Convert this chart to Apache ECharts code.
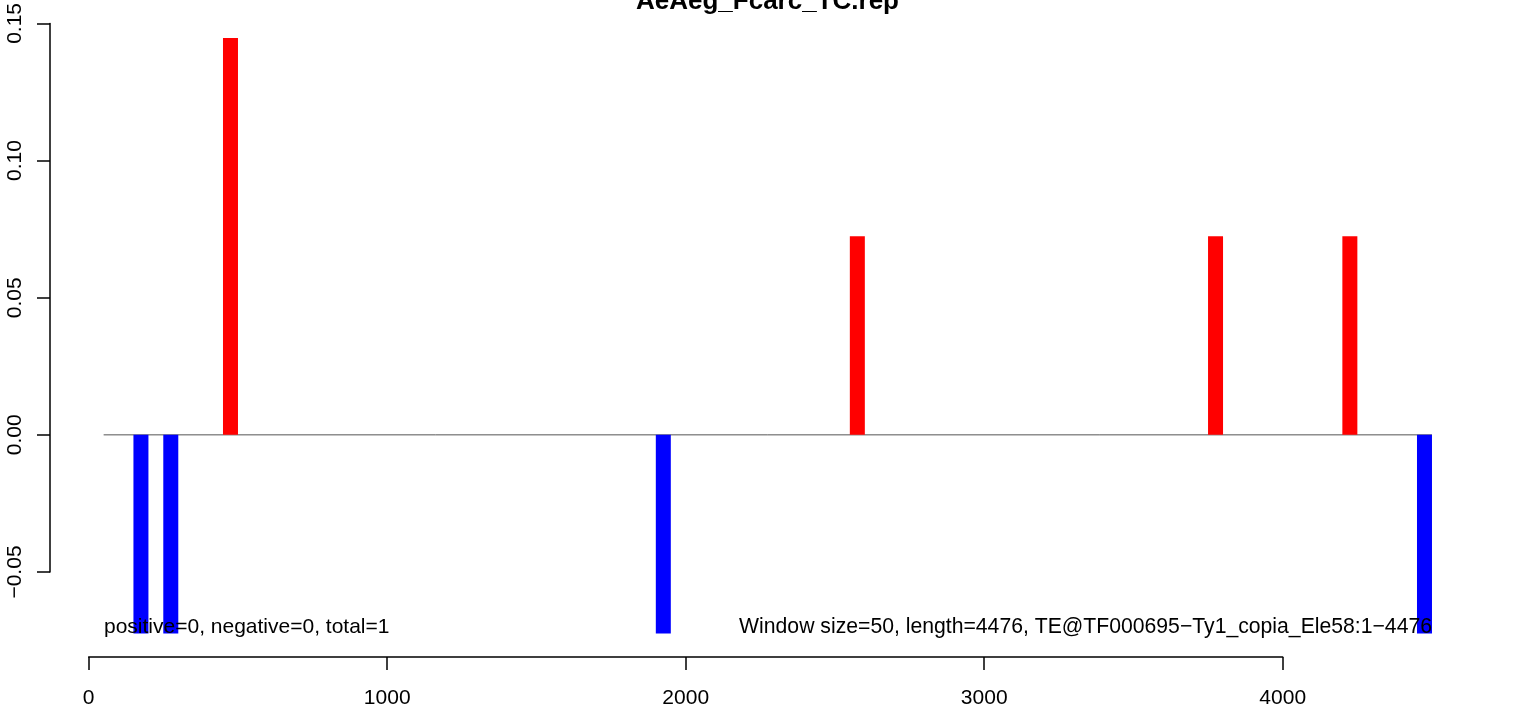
<!DOCTYPE html>
<html>
<head>
<meta charset="utf-8">
<script src="https://cdn.jsdelivr.net/npm/echarts@6/dist/echarts.min.js"></script>
<style>
html,body{margin:0;padding:0;background:#fff;}
#chart{width:1536px;height:709px;}
</style>
</head>
<body>
<div id="chart"></div>
<script>
// ---- data ----
var chartTitle = "AeAeg_Fcarc_TC.rep";
var positions = [175, 275, 475, 1925, 2575, 3775, 4225, 4475];
var values = [-0.0724, -0.0724, 0.1447, -0.0724, 0.0724, 0.0724, 0.0724, -0.0724];
var baselineX = [50, 4500];
var xTicks = [0, 1000, 2000, 3000, 4000];
var yTicks = [-0.05, 0.00, 0.05, 0.10, 0.15];
var leftNote = "positive=0, negative=0, total=1";
var rightNote = "Window size=50, length=4476, TE@TF000695\u2212Ty1_copia_Ele58:1\u22124476";

var FONT = "'Liberation Sans', Arial, Helvetica, sans-serif";
var chart = echarts.init(document.getElementById('chart'), null, {renderer: 'canvas'});

var barData = positions.map(function (p, i) { return [p, values[i]]; });

var option = {
  animation: false,
  backgroundColor: '#ffffff',
  grid: {left: 88.7, right: 253.3, top: 22.5, bottom: 136, containLabel: false},
  xAxis: {
    type: 'value',
    min: xTicks[0], max: xTicks[xTicks.length - 1], interval: xTicks[1] - xTicks[0],
    offset: 85,
    axisLine: {show: true, onZero: false, lineStyle: {color: '#000', width: 1.5}},
    axisTick: {show: true, length: 13, lineStyle: {color: '#000', width: 1.5}},
    axisLabel: {show: true, margin: 31, color: '#000', fontSize: 21, fontFamily: FONT,
      formatter: function (v) { return String(v); }},
    splitLine: {show: false}
  },
  yAxis: {
    type: 'value',
    min: yTicks[0], max: yTicks[yTicks.length - 1], interval: 0.05,
    offset: 38.7,
    axisLine: {show: true, onZero: false, lineStyle: {color: '#000', width: 1.5}},
    axisTick: {show: true, length: 13, lineStyle: {color: '#000', width: 1.5}},
    axisLabel: {
      show: true, rotate: 90, margin: 24.5, color: '#000', fontSize: 21, fontFamily: FONT,
      formatter: function (v) { return (v < -1e-9 ? '\u2212' : '') + Math.abs(v).toFixed(2); }
    },
    splitLine: {show: false}
  },
  series: [
    {
      type: 'custom',
      data: [[baselineX[0], baselineX[1]]],
      clip: false,
      z: 1,
      silent: true,
      renderItem: function (params, api) {
        var p1 = api.coord([api.value(0), 0]);
        var p2 = api.coord([api.value(1), 0]);
        return {
          type: 'line',
          shape: {x1: p1[0], y1: p1[1], x2: p2[0], y2: p2[1]},
          style: {stroke: '#555555', lineWidth: 1}
        };
      }
    },
    {
      type: 'bar',
      data: barData,
      barWidth: 15,
      clip: false,
      z: 2,
      itemStyle: {
        color: function (p) { return p.value[1] >= 0 ? '#ff0000' : '#0000ff'; }
      },
      silent: true
    }
  ],
  graphic: [
    {
      type: 'text', x: 767.5, y: 15, z: 100,
      style: {text: chartTitle, font: 'bold 26px ' + FONT, fill: '#000', align: 'center', verticalAlign: 'bottom'}
    },
    {
      type: 'text', x: 104, y: 627, z: 100,
      style: {text: leftNote, font: '21px ' + FONT, fill: '#000', align: 'left', verticalAlign: 'middle'}
    },
    {
      type: 'text', x: 1432, y: 627, z: 100,
      style: {text: rightNote, font: '21.2px ' + FONT, fill: '#000', align: 'right', verticalAlign: 'middle'}
    }
  ]
};
chart.setOption(option);
</script>
</body>
</html>
